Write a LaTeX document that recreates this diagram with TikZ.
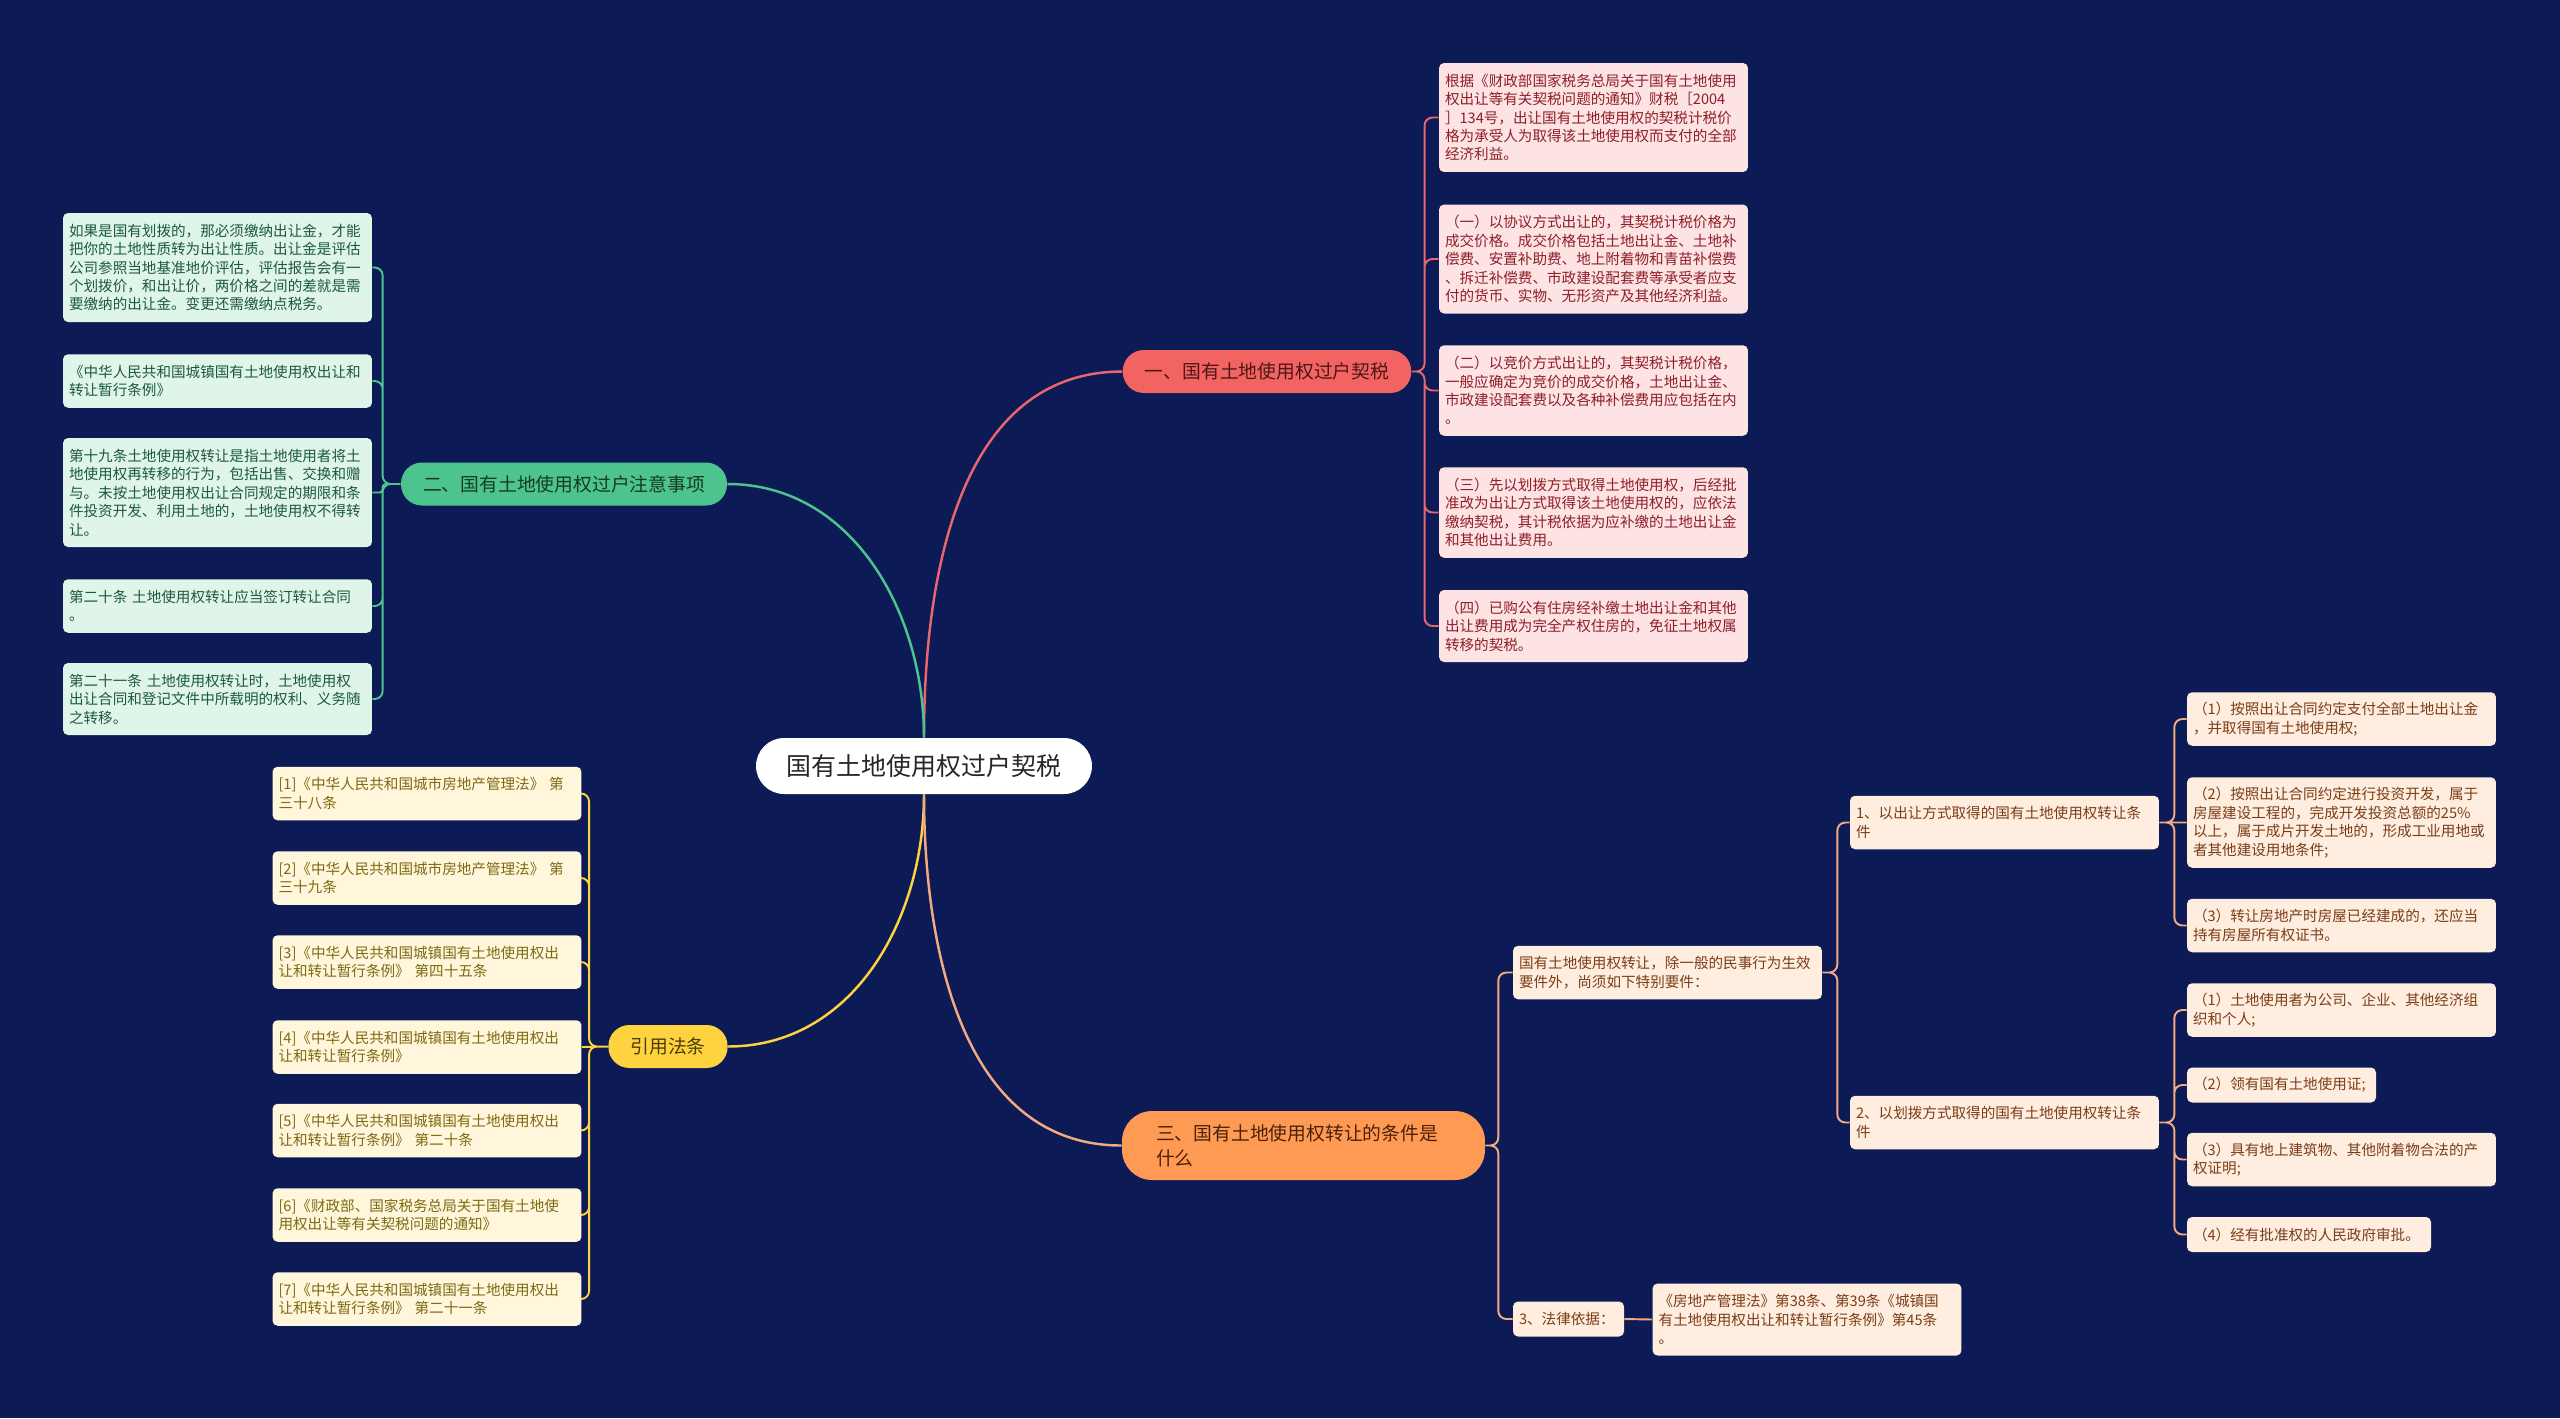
\documentclass[tikz,border=0pt]{standalone}
\usepackage{fontspec}
\usepackage{xcolor}
\usepackage{tikz}
\newfontfamily\cjk{Noto Sans CJK SC}
\definecolor{bgNavy}{HTML}{0C1B56}
\definecolor{redFill}{HTML}{F26461}
\definecolor{redText}{HTML}{4D1616}
\definecolor{redLeaf}{HTML}{FDE3E3}
\definecolor{redLeafText}{HTML}{8E1F2A}
\definecolor{redLine}{HTML}{E8666E}
\definecolor{greenFill}{HTML}{4DC48D}
\definecolor{greenText}{HTML}{163A28}
\definecolor{greenLeaf}{HTML}{DFF5EA}
\definecolor{greenLeafText}{HTML}{1D5A3A}
\definecolor{greenLine}{HTML}{4DC48D}
\definecolor{yellowFill}{HTML}{FFD33F}
\definecolor{yellowText}{HTML}{4A3A05}
\definecolor{yellowLeaf}{HTML}{FFF6DC}
\definecolor{yellowLeafText}{HTML}{7D6A12}
\definecolor{yellowLine}{HTML}{FFD33F}
\definecolor{orangeFill}{HTML}{FF9A55}
\definecolor{orangeText}{HTML}{4A2108}
\definecolor{orangeLeaf}{HTML}{FFEDE0}
\definecolor{orangeLeafText}{HTML}{7A3E16}
\definecolor{orangeLine}{HTML}{F4AA80}
\tikzset{
  rootnode/.style={rectangle, rounded corners=0.56cm, fill=white, text=black!85, font=\cjk\fontsize{14.2pt}{17pt}\selectfont, minimum width=6.72cm, minimum height=1.12cm, inner sep=0pt},
  branchnode/.style 2 args={rectangle, rounded corners=0.42cm, fill=#1, text=#2, font=\cjk\fontsize{10.7pt}{14.2pt}\selectfont, minimum height=0.86cm, inner xsep=0.44cm, inner ysep=0pt},
  leafnode/.style 2 args={rectangle, rounded corners=0.1cm, fill=#1, text=#2, font=\cjk\fontsize{8.3pt}{10.5pt}\selectfont, align=left, text width=5.94cm, inner xsep=0.12cm, inner ysep=0pt},
  nlines/.style={minimum height={(0.33+0.37*#1)*1cm}},
  mainlink/.style={line width=1.4pt, draw=#1},
  leaflink/.style={line width=1.1pt, draw=#1, rounded corners=0.16cm},
}
\begin{document}
\begin{tikzpicture}[x=0.02cm,y=-0.02cm]
  \useasboundingbox (0,0) rectangle (2560,1418);
  \fill[bgNavy] (0,0) rectangle (2560,1418);

  \node[rootnode] (root) at (924,766) {国有土地使用权过户契税};

  % --- main branches ---
  \node[branchnode={redFill}{redText}] (tax) at (1267,371.5) {一、国有土地使用权过户契税};
  \node[branchnode={greenFill}{greenText}] (note) at (564,484) {二、国有土地使用权过户注意事项};
  \node[branchnode={orangeFill}{orangeText}, text width=5.9cm, align=left, inner xsep=0.68cm, minimum height=1.38cm, rounded corners=0.6cm] (cond) at (1303.5,1145.5) {三、国有土地使用权转让的条件是\\什么};
  \node[branchnode={yellowFill}{yellowText}] (refs) at (668,1046.5) {引用法条};

  % --- tax leaves ---
  \node[leafnode={redLeaf}{redLeafText}, nlines=5] (t1) at (1593.5,117.5) {根据《财政部国家税务总局关于国有土地使用\\权出让等有关契税问题的通知》财税［2004\\］134号，出让国有土地使用权的契税计税价\\格为承受人为取得该土地使用权而支付的全部\\经济利益。};
  \node[leafnode={redLeaf}{redLeafText}, nlines=5] (t2) at (1593.5,259) {（一）以协议方式出让的，其契税计税价格为\\成交价格。成交价格包括土地出让金、土地补\\偿费、安置补助费、地上附着物和青苗补偿费\\、拆迁补偿费、市政建设配套费等承受者应支\\付的货币、实物、无形资产及其他经济利益。};
  \node[leafnode={redLeaf}{redLeafText}, nlines=4] (t3) at (1593.5,390.5) {（二）以竞价方式出让的，其契税计税价格，\\一般应确定为竞价的成交价格，土地出让金、\\市政建设配套费以及各种补偿费用应包括在内\\。};
  \node[leafnode={redLeaf}{redLeafText}, nlines=4] (t4) at (1593.5,512.5) {（三）先以划拨方式取得土地使用权，后经批\\准改为出让方式取得该土地使用权的，应依法\\缴纳契税，其计税依据为应补缴的土地出让金\\和其他出让费用。};
  \node[leafnode={redLeaf}{redLeafText}, nlines=3] (t5) at (1593.5,626) {（四）已购公有住房经补缴土地出让金和其他\\出让费用成为完全产权住房的，免征土地权属\\转移的契税。};

  % --- note leaves ---
  \node[leafnode={greenLeaf}{greenLeafText}, nlines=5] (n1) at (217.5,267.5) {如果是国有划拨的，那必须缴纳出让金，才能\\把你的土地性质转为出让性质。出让金是评估\\公司参照当地基准地价评估，评估报告会有一\\个划拨价，和出让价，两价格之间的差就是需\\要缴纳的出让金。变更还需缴纳点税务。};
  \node[leafnode={greenLeaf}{greenLeafText}, nlines=2] (n2) at (217.5,381) {《中华人民共和国城镇国有土地使用权出让和\\转让暂行条例》};
  \node[leafnode={greenLeaf}{greenLeafText}, nlines=5] (n3) at (217.5,492.5) {第十九条土地使用权转让是指土地使用者将土\\地使用权再转移的行为，包括出售、交换和赠\\与。未按土地使用权出让合同规定的期限和条\\件投资开发、利用土地的，土地使用权不得转\\让。};
  \node[leafnode={greenLeaf}{greenLeafText}, nlines=2] (n4) at (217.5,606) {第二十条 土地使用权转让应当签订转让合同\\。};
  \node[leafnode={greenLeaf}{greenLeafText}, nlines=3] (n5) at (217.5,699) {第二十一条 土地使用权转让时，土地使用权\\出让合同和登记文件中所载明的权利、义务随\\之转移。};

  % --- cited laws ---
  \node[leafnode={yellowLeaf}{yellowLeafText}, nlines=2] (r1) at (427,793.5) {[1]《中华人民共和国城市房地产管理法》 第\\三十八条};
  \node[leafnode={yellowLeaf}{yellowLeafText}, nlines=2] (r2) at (427,878) {[2]《中华人民共和国城市房地产管理法》 第\\三十九条};
  \node[leafnode={yellowLeaf}{yellowLeafText}, nlines=2] (r3) at (427,962) {[3]《中华人民共和国城镇国有土地使用权出\\让和转让暂行条例》 第四十五条};
  \node[leafnode={yellowLeaf}{yellowLeafText}, nlines=2] (r4) at (427,1047) {[4]《中华人民共和国城镇国有土地使用权出\\让和转让暂行条例》};
  \node[leafnode={yellowLeaf}{yellowLeafText}, nlines=2] (r5) at (427,1130.5) {[5]《中华人民共和国城镇国有土地使用权出\\让和转让暂行条例》 第二十条};
  \node[leafnode={yellowLeaf}{yellowLeafText}, nlines=2] (r6) at (427,1215) {[6]《财政部、国家税务总局关于国有土地使\\用权出让等有关契税问题的通知》};
  \node[leafnode={yellowLeaf}{yellowLeafText}, nlines=2] (r7) at (427,1299) {[7]《中华人民共和国城镇国有土地使用权出\\让和转让暂行条例》 第二十一条};

  % --- conditions ---
  \node[leafnode={orangeLeaf}{orangeLeafText}, nlines=2] (general) at (1667.5,972.5) {国有土地使用权转让，除一般的民事行为生效\\要件外，尚须如下特别要件：};
  \node[leafnode={orangeLeaf}{orangeLeafText}, nlines=1, text width=1.98cm] (basis) at (1568.5,1319) {3、法律依据：};
  \node[leafnode={orangeLeaf}{orangeLeafText}, nlines=3] (law) at (1807,1319.5) {《房地产管理法》第38条、第39条《城镇国\\有土地使用权出让和转让暂行条例》第45条\\。};
  \node[leafnode={orangeLeaf}{orangeLeafText}, nlines=2] (grant) at (2004.5,822.5) {1、以出让方式取得的国有土地使用权转让条\\件};
  \node[leafnode={orangeLeaf}{orangeLeafText}, nlines=2] (alloc) at (2004.5,1122.5) {2、以划拨方式取得的国有土地使用权转让条\\件};
  \node[leafnode={orangeLeaf}{orangeLeafText}, nlines=2] (ga) at (2341.5,719) {（1）按照出让合同约定支付全部土地出让金\\，并取得国有土地使用权;};
  \node[leafnode={orangeLeaf}{orangeLeafText}, nlines=4] (gb) at (2341.5,822.5) {（2）按照出让合同约定进行投资开发，属于\\房屋建设工程的，完成开发投资总额的25\%\\以上，属于成片开发土地的，形成工业用地或\\者其他建设用地条件;};
  \node[leafnode={orangeLeaf}{orangeLeafText}, nlines=2] (gc) at (2341.5,925.5) {（3）转让房地产时房屋已经建成的，还应当\\持有房屋所有权证书。};
  \node[leafnode={orangeLeaf}{orangeLeafText}, nlines=2] (aa) at (2341.5,1010) {（1）土地使用者为公司、企业、其他经济组\\织和个人;};
  \node[leafnode={orangeLeaf}{orangeLeafText}, nlines=1, text width=3.54cm] (ab) at (2281.5,1085) {（2）领有国有土地使用证;};
  \node[leafnode={orangeLeaf}{orangeLeafText}, nlines=2] (ac) at (2341.5,1159.5) {（3）具有地上建筑物、其他附着物合法的产\\权证明;};
  \node[leafnode={orangeLeaf}{orangeLeafText}, nlines=1, text width=4.64cm] (ad) at (2309,1234.5) {（4）经有批准权的人民政府审批。};

  % --- root to branches ---
  \draw[mainlink=redLine] (root.north) to[out=90,in=180] (tax.west);
  \draw[mainlink=greenLine] (root.north) to[out=90,in=0] (note.east);
  \draw[mainlink=yellowLine] (root.south) to[out=-90,in=0] (refs.east);
  \draw[mainlink=orangeLine] (root.south) to[out=-90,in=180] (cond.west);

  % --- branches to leaves ---
  \draw[leaflink=redLine] (tax.east) -- ++(13,0) |- (t1.west)
    (tax.east) -- ++(13,0) |- (t2.west)
    (tax.east) -- ++(13,0) |- (t3.west)
    (tax.east) -- ++(13,0) |- (t4.west)
    (tax.east) -- ++(13,0) |- (t5.west);
  \draw[leaflink=greenLine] (note.west) -- ++(-18,0) |- (n1.east)
    (note.west) -- ++(-18,0) |- (n2.east)
    (note.west) -- ++(-18,0) |- (n4.east)
    (note.west) -- ++(-18,0) |- (n5.east)
    [rounded corners=0.06cm] (note.west) -- ++(-18,0) |- (n3.east);
  \draw[leaflink=yellowLine] (refs.west) -- ++(-19,0) |- (r1.east)
    (refs.west) -- ++(-19,0) |- (r2.east)
    (refs.west) -- ++(-19,0) |- (r3.east)
    (refs.west) -- ++(-19,0) |- (r5.east)
    (refs.west) -- ++(-19,0) |- (r6.east)
    (refs.west) -- ++(-19,0) |- (r7.east)
    [sharp corners] (refs.west) -- (r4.east);
  \draw[leaflink=orangeLine] (cond.east) -- ++(13,0) |- (general.west)
    (cond.east) -- ++(13,0) |- (basis.west);
  \draw[leaflink=orangeLine] (basis.east) -- (law.west);
  \draw[leaflink=orangeLine] (general.east) -- ++(15,0) |- (grant.west)
    (general.east) -- ++(15,0) |- (alloc.west);
  \draw[leaflink=orangeLine] (grant.east) -- ++(15,0) |- (ga.west)
    (grant.east) -- ++(15,0) |- (gc.west)
    [sharp corners] (grant.east) -- (gb.west);
  \draw[leaflink=orangeLine] (alloc.east) -- ++(15,0) |- (aa.west)
    (alloc.east) -- ++(15,0) |- (ab.west)
    (alloc.east) -- ++(15,0) |- (ac.west)
    (alloc.east) -- ++(15,0) |- (ad.west);
\end{tikzpicture}
\end{document}
